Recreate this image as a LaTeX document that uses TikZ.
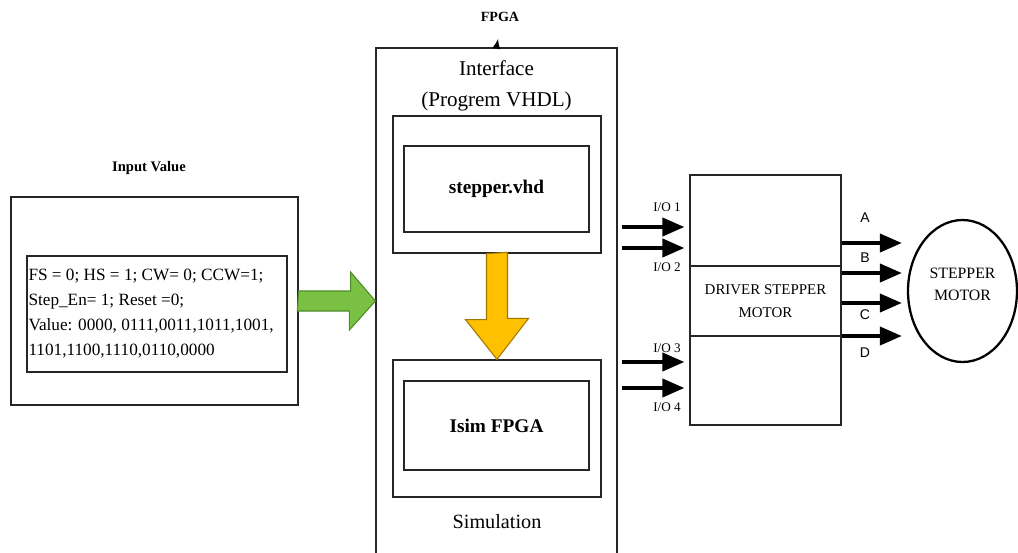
\documentclass[tikz,border=0pt]{standalone}
\usepackage{fontspec}
\setmainfont{Liberation Serif}
\newfontfamily\arialfont{Liberation Sans}
\usetikzlibrary{arrows.meta,shapes.geometric}
\definecolor{blockgreen}{HTML}{7AC143}
\definecolor{blockgreenline}{HTML}{4F8A2A}
\definecolor{blockorange}{HTML}{FFC000}
\definecolor{blockorangeline}{HTML}{A07800}
\begin{document}
\begin{tikzpicture}[x=0.02cm, y=-0.02cm,
    box/.style={draw=black!85, line width=0.7pt, inner sep=0pt},
    ioarrow/.style={line width=2.2pt, -{Triangle[length=0.44cm,width=0.36cm]}},
    small/.style={font=\fontsize{7.5}{9}\selectfont},
    pin/.style={font=\arialfont\fontsize{8}{9}\selectfont}]
    \clip (0,0) rectangle (1018,552);
    % input side
    \node [box, minimum width=5.74cm, minimum height=4.16cm] (inbox) at (154.5,301) {};
    \node [font=\bfseries\fontsize{8.3}{10}\selectfont] (inlbl) at (149,168) {Input Value};
    \node [box, minimum width=5.2cm, minimum height=2.32cm] (invals) at (157,314) {};
    \node [anchor=west, align=left, inner sep=1pt, font=\fontsize{9.8}{14.2}\selectfont] (invaltxt) at (invals.west)
        {FS = 0; HS = 1; CW= 0; CCW=1;\\Step\_En= 1; Reset =0;\\Value: 0000, 0111,0011,1011,1001,\\1101,1100,1110,0110,0000};
    % fpga
    \node [box, minimum width=4.82cm, minimum height=10.6cm] (fpga) at (496.5,313) {};
    \node [font=\bfseries\fontsize{8}{10}\selectfont] (fpgalbl) at (500,17) {FPGA};
    \draw [-{Latex[length=0.2cm,width=0.16cm]}, line width=0.8pt, shorten >=0.22cm] (fpga.north) -- (fpgalbl.south);
    \node [align=center, font=\fontsize{12}{17.5}\selectfont] (iface) at (496.5,86) {Interface\\(Progrem VHDL)};
    \node [box, minimum width=4.16cm, minimum height=2.74cm] (prog) at (497,184.5) {};
    \node [box, minimum width=3.7cm, minimum height=1.72cm, font=\bfseries\fontsize{11}{13}\selectfont] (vhd) at (496.5,189) {stepper.vhd};
    \node [box, minimum width=4.16cm, minimum height=2.74cm] (sim) at (497,428.5) {};
    \node [box, minimum width=3.7cm, minimum height=1.78cm, font=\bfseries\fontsize{11}{13}\selectfont] (isim) at (496.5,425.5) {Isim FPGA};
    \node [font=\fontsize{11.5}{13}\selectfont] (simlbl) at (497,522) {Simulation};
    % block arrows
    \draw [draw=blockgreenline, fill=blockgreen, line width=0.6pt] (inbox.east) ++(0,-10) -- ++(52,0) -- ++(0,-19)
        -- (fpga.west |- inbox.east) -- ++(-26,29) -- ++(0,-19) -- ++(-52,0) -- cycle;
    \draw [draw=blockorangeline, fill=blockorange, line width=0.6pt] (prog.south) ++(-10.5,0) -- ++(0,66) -- ++(-21,0)
        -- (sim.north) -- ++(31.5,-41) -- ++(-21,0) -- ++(0,-66) -- cycle;
    % driver
    \node [box, minimum width=3.02cm, minimum height=5cm] (drv) at (765.5,300) {};
    \node [box, minimum width=3.02cm, minimum height=1.4cm, align=center, font=\fontsize{8.5}{13}\selectfont] (drvmid) at (765.5,301) {DRIVER STEPPER\\MOTOR};
    \foreach \y in {227,248,362,388}
        \draw [ioarrow, shorten <=0.08cm, shorten >=0.1cm] (fpga.east |- 0,\y) -- (drv.west |- 0,\y);
    \node [small] (io1) at (667,207) {I/O 1};
    \node [small] (io2) at (667,267) {I/O 2};
    \node [small] (io3) at (667,348) {I/O 3};
    \node [small] (io4) at (667,407) {I/O 4};
    % motor
    \node [draw, ellipse, line width=1.3pt, minimum width=2.18cm, minimum height=2.84cm, inner sep=0pt] (motor) at (962.5,291) {};
    \node [align=center, font=\fontsize{9}{12.5}\selectfont] (motortxt) at (962.5,284) {STEPPER\\MOTOR};
    \foreach \y in {243,273,303,336}
        \draw [ioarrow, shorten >=0.1cm] (drv.east |- 0,\y) -- (motor.west |- 0,\y);
    \node [pin] (pa) at (865,218) {A};
    \node [pin] (pb) at (865,258) {B};
    \node [pin] (pc) at (865,315) {C};
    \node [pin] (pd) at (865,353) {D};
\end{tikzpicture}
\end{document}
